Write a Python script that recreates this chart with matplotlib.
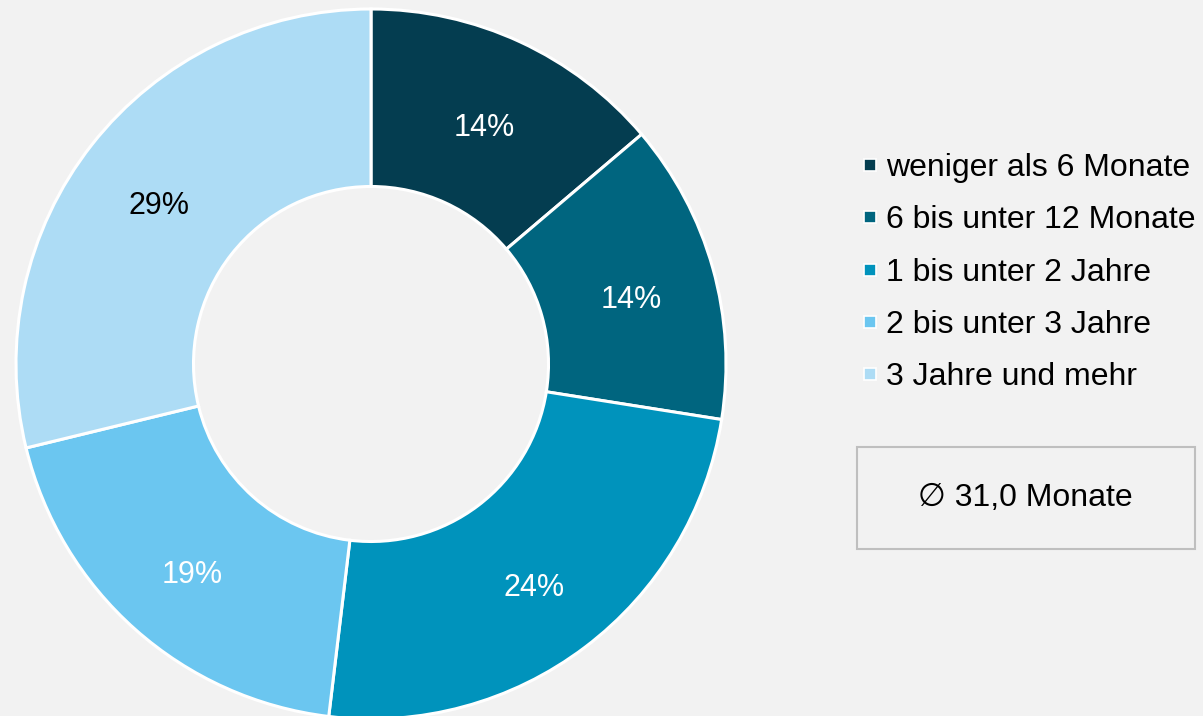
import matplotlib
matplotlib.use("Agg")
import matplotlib.pyplot as plt
from matplotlib.lines import Line2D
from matplotlib.patches import Rectangle
import numpy as np

plt.rcParams['font.family'] = ['Liberation Sans', 'DejaVu Sans']

categories = ["weniger als 6 Monate", "6 bis unter 12 Monate", "1 bis unter 2 Jahre",
              "2 bis unter 3 Jahre", "3 Jahre und mehr"]
values = [13.8, 13.7, 24.4, 19.3, 28.8]
value_labels = ["14%", "14%", "24%", "19%", "29%"]
colors = ["#043D50", "#00657F", "#0093BC", "#6BC6F0", "#ADDCF5"]
label_colors = ["white", "white", "white", "white", "black"]
average_text = "\u2205 31,0 Monate"

W, H = 1203, 716
fig = plt.figure(figsize=(W / 100, H / 100), dpi=100)
fig.patch.set_facecolor("#F2F2F2")

cx, cy, r = 371, 364, 355
ax = fig.add_axes([(cx - r) / W, (H - cy - r) / H, 2 * r / W, 2 * r / H])
ax.set_facecolor("none")
wedges, _ = ax.pie(values, colors=colors, startangle=90, counterclock=False,
                   radius=1, wedgeprops=dict(width=0.5, edgecolor="white", linewidth=2.2))
total = sum(values)
start = 90.0
for v, lab, tc in zip(values, value_labels, label_colors):
    mid = start - v / total * 360 / 2
    start -= v / total * 360
    ax.text(0.76 * np.cos(np.radians(mid)), 0.76 * np.sin(np.radians(mid)) - 0.025, lab,
            ha="center", va="center", fontsize=22, color=tc)
ax.set_xlim(-1, 1)
ax.set_ylim(-1, 1)
ax.set_aspect("equal")
ax.axis("off")

handles = [Line2D([], [], marker="s", linestyle="none", markersize=9,
                  markerfacecolor=c, markeredgecolor="white", markeredgewidth=1.2)
           for c in colors]
fig.legend(handles, categories, loc="upper left", bbox_to_anchor=(862 / W, 1 - 153 / H),
           frameon=False, fontsize=23, handlelength=0.5, handletextpad=0.25,
           labelspacing=0.70, borderpad=0, borderaxespad=0)

fig.add_artist(Rectangle((857 / W, 1 - 549 / H), (1195 - 857) / W, (549 - 447) / H,
                         transform=fig.transFigure, facecolor="none",
                         edgecolor="#BFBFBF", linewidth=1.5))
fig.text(1025 / W, 1 - 498 / H, average_text, ha="center", va="center", fontsize=23)

fig.savefig("out.png", dpi=100, facecolor=fig.get_facecolor())
